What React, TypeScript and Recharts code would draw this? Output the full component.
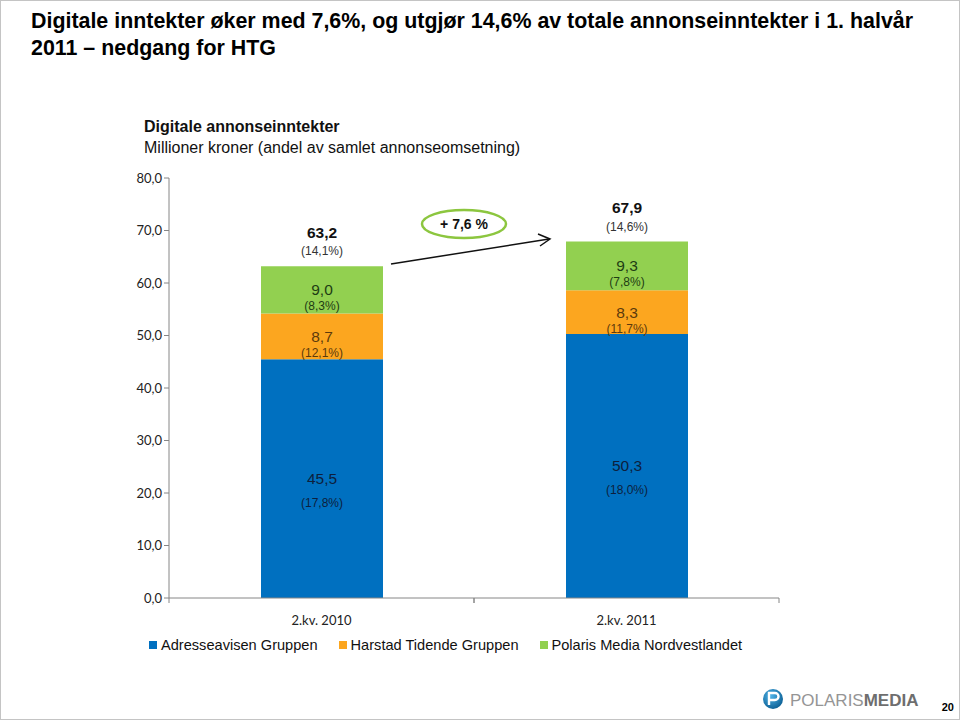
import { BarChart, Bar, XAxis, YAxis, LabelList } from 'recharts'

const categories = ['2.kv. 2010', '2.kv. 2011']
const adresseavisen = [45.5, 50.3]
const harstad = [8.7, 8.3]
const polarisNordvest = [9.0, 9.3]
const adresseavisenShare = ['17,8%', '18,0%']
const harstadShare = ['12,1%', '11,7%']
const polarisNordvestShare = ['8,3%', '7,8%']
const totals = [63.2, 67.9]
const totalShare = ['14,1%', '14,6%']
const yTicks = [0, 10, 20, 30, 40, 50, 60, 70, 80]
const growth = '+ 7,6 %'

const series = [
  { key: 'adresseavisen', name: 'Adresseavisen Gruppen', color: '#0070c0', text: '#0d1f3d', shares: adresseavisenShare, gap: 24 },
  { key: 'harstad', name: 'Harstad Tidende Gruppen', color: '#fca61f', text: '#5c3a0c', shares: harstadShare, gap: 17 },
  { key: 'polaris', name: 'Polaris Media Nordvestlandet', color: '#92d050', text: '#1e3d14', shares: polarisNordvestShare, gap: 16 },
]

const data = categories.map((c, i) => ({
  name: c,
  adresseavisen: adresseavisen[i],
  harstad: harstad[i],
  polaris: polarisNordvest[i],
}))

const ARIAL = '"Liberation Sans", Arial, sans-serif'
const CALIBRI = 'Lato, "Open Sans", sans-serif'
const AXIS = '#868686'

const fmt = (v: number) => v.toFixed(1).replace('.', ',')

const segmentLabel = (s: (typeof series)[number]) => (props: any) => {
  const { x, y, width, height, index } = props
  const cx = Number(x) + Number(width) / 2
  const cy = Number(y) + Number(height) / 2
  const vals = data[index][s.key as 'adresseavisen']
  return (
    <g fontFamily={ARIAL} textAnchor="middle">
      <text x={cx} y={cy} dy="0.35em" fontSize={15.5} fill={s.text}>{fmt(vals)}</text>
      <text x={cx} y={cy + s.gap} dy="0.35em" fontSize={12} fill={s.text}>({s.shares[index]})</text>
    </g>
  )
}

const totalLabel = (props: any) => {
  const { x, y, width, index } = props
  const cx = Number(x) + Number(width) / 2
  const top = Number(y)
  return (
    <g fontFamily={ARIAL} textAnchor="middle">
      <text x={cx} y={top - 34} dy="0.35em" fontSize={15.5} fontWeight="bold" fill="#111">{fmt(totals[index])}</text>
      <text x={cx} y={top - 15} dy="0.35em" fontSize={12} fill="#333">({totalShare[index]})</text>
    </g>
  )
}

const CategoryTick = (props: any) => {
  const { x, y, payload } = props
  const half = payload.offset ?? 0
  const axisY = Number(y) - 5
  return (
    <g>
      <line x1={x - half} x2={x - half} y1={axisY} y2={axisY + 5} stroke={AXIS} />
      <line x1={x + half} x2={x + half} y1={axisY} y2={axisY + 5} stroke={AXIS} />
      <text x={x} y={axisY + 22} dy="0.35em" textAnchor="middle" fontFamily={CALIBRI} fontSize={13} fill="#222">
        {payload.value}
      </text>
    </g>
  )
}

export default function App() {
  return (
    <div
      style={{
        position: 'absolute',
        left: 0,
        top: 0,
        width: 960,
        height: 720,
        boxSizing: 'border-box',
        border: '1px solid #c4c4c4',
        background: '#fff',
        fontFamily: ARIAL,
        overflow: 'hidden',
      }}
    >
      <div style={{ position: 'absolute', left: 0, top: 0 }}>
        <BarChart width={960} height={720} data={data} margin={{ top: 177, right: 182, bottom: 93, left: 0 }}>
          <XAxis
            dataKey="name"
            height={30}
            stroke={AXIS}
            tickLine={false}
            tickSize={5}
            tickMargin={0}
            tick={<CategoryTick />}
          />
          <YAxis
            width={168}
            domain={[0, 80]}
            ticks={yTicks}
            stroke={AXIS}
            tickSize={5}
            tickFormatter={fmt}
            tick={{ fontFamily: CALIBRI, fontSize: 13, fill: '#222' }}
          />
          {series.map((s, i) => (
            <Bar key={s.key} dataKey={s.key} name={s.name} stackId="a" fill={s.color} barSize={122} isAnimationActive={false}>
              <LabelList dataKey={s.key} content={segmentLabel(s)} />
              {i === series.length - 1 && <LabelList dataKey={s.key} content={totalLabel} />}
            </Bar>
          ))}
        </BarChart>
      </div>

      <div style={{ position: 'absolute', left: 30, top: 7, fontSize: 21.4, fontWeight: 'bold', lineHeight: '27px', color: '#000', whiteSpace: 'nowrap' }}>
        Digitale inntekter øker med 7,6%, og utgjør 14,6% av totale annonseinntekter i 1. halvår
        <br />
        2011 – nedgang for HTG
      </div>

      <div style={{ position: 'absolute', left: 143, top: 115, fontSize: 16, lineHeight: '21px', color: '#111' }}>
        <div style={{ fontWeight: 'bold' }}>Digitale annonseinntekter</div>
        <div>Millioner kroner (andel av samlet annonseomsetning)</div>
      </div>

      <svg width={960} height={720} style={{ position: 'absolute', left: 0, top: 0, pointerEvents: 'none' }}>
        <line x1={390} y1={263} x2={548} y2={238} stroke="#111" strokeWidth={1.5} />
        <polyline points="537,233 549,238 539,245" fill="none" stroke="#111" strokeWidth={1.5} />
        <ellipse cx={463} cy={223} rx={42} ry={14} fill="#fff" stroke="#8cc63f" strokeWidth={2.5} />
        <text x={463} y={223} dy="0.35em" textAnchor="middle" fontFamily={ARIAL} fontSize={14} fontWeight="bold" fill="#111">
          {growth}
        </text>
        <defs>
          <radialGradient id="logoGrad" cx="40%" cy="35%" r="70%">
            <stop offset="0%" stopColor="#4fb3e8" />
            <stop offset="100%" stopColor="#0a5d92" />
          </radialGradient>
        </defs>
        <circle cx={772} cy={698} r={10} fill="url(#logoGrad)" />
        <path d="M768,704 L768,692 L774,692 A3.5,3.5 0 0 1 774,699 L768,699" fill="none" stroke="#fff" strokeWidth={2.4} />
        <text x={789} y={705} fontFamily={ARIAL} fontSize={17}>
          <tspan fill="#959595">POLARIS</tspan>
          <tspan fill="#6e6e6e" fontWeight="bold">MEDIA</tspan>
        </text>
        <text x={953} y={710} textAnchor="end" fontFamily={ARIAL} fontSize={11} fontWeight="bold" fill="#000">20</text>
      </svg>

      <div style={{ position: 'absolute', left: 148, top: 636, display: 'flex', gap: 21, fontSize: 14.6, color: '#111', whiteSpace: 'nowrap' }}>
        {series.map((s) => (
          <div key={s.key} style={{ display: 'flex', alignItems: 'center' }}>
            <span style={{ display: 'inline-block', width: 8, height: 8, background: s.color, marginRight: 4 }} />
            {s.name}
          </div>
        ))}
      </div>
    </div>
  )
}
